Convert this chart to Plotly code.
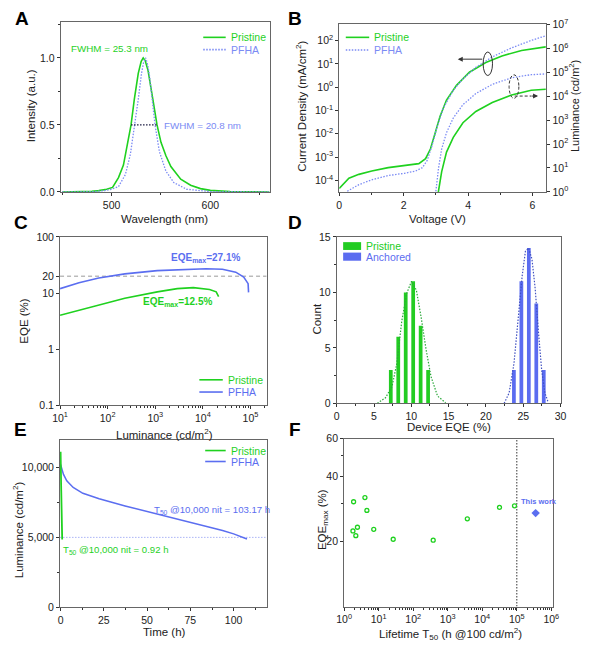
import plotly.graph_objects as go

W, H = 589, 649
def px(x): return x / W
def py(y): return 1 - y / H

GREEN = "#1fd11f"
BLUE = "#5b6ef0"
BLUE_LIGHT = "#7b8bf4"
FONT = "Arial, Liberation Sans, sans-serif"
DOT = "1.5px,1.5px"

# ---------------- data ----------------
# A: EL spectra
spec_wl_pristine = [450, 470, 480, 487, 495, 501, 507, 512, 515.5, 519.7, 523, 527, 530, 532, 534, 536.8,
                    541.8, 546, 550, 555, 560, 570, 580, 590, 600, 620, 660]
spec_int_pristine = [0, 0.002, 0.005, 0.01, 0.02, 0.034, 0.107, 0.20, 0.33, 0.5, 0.69, 0.885, 0.975, 1.0, 0.98,
                     0.91, 0.69, 0.5, 0.37, 0.27, 0.19, 0.095, 0.05, 0.025, 0.012, 0.003, 0]
spec_wl_pfha = [450, 480, 493, 500, 507, 514, 519, 523.7, 527, 530.3, 532.5, 534.5, 536.5, 538.5, 541.8, 544,
                548.4, 555, 563, 576, 600, 660]
spec_int_pfha = [0, 0.002, 0.01, 0.02, 0.04, 0.13, 0.28, 0.5, 0.69, 0.885, 0.97, 1.0, 0.95, 0.86, 0.65, 0.5,
                 0.30, 0.155, 0.07, 0.02, 0.003, 0]
fwhm_x = [519.7, 546]
fwhm_y = [0.5, 0.5]

# B: J-V-L
jv_v_pristine = [0, 0.3, 0.61, 1.01, 1.52, 2.02, 2.47, 2.68, 2.83, 2.98, 3.13, 3.33, 3.64, 4.04, 4.55, 5.05, 5.66, 6.41]
jv_j_pristine = [4.5e-5, 1.23e-4, 1.8e-4, 2.5e-4, 3.5e-4, 4.3e-4, 5.2e-4, 8.5e-4, 2.2e-3, 1.1e-2, 5.6e-2, 0.28,
                 1.2, 4.4, 11.5, 22, 38, 54]
jv_v_pfha = [0.25, 0.61, 1.01, 1.52, 2.02, 2.37, 2.58, 2.73, 2.88, 3.03, 3.23, 3.54, 3.84, 4.24, 4.75, 5.35, 5.96, 6.41]
jv_j_pfha = [3.4e-5, 6.5e-5, 1.05e-4, 1.6e-4, 2.0e-4, 2.5e-4, 3.5e-4, 7.2e-4, 3.1e-3, 1.8e-2, 0.126, 0.74,
             2.3, 7.1, 20, 49, 102, 162]
lv_v_pristine = [3.05, 3.08, 3.18, 3.33, 3.54, 3.84, 4.24, 4.75, 5.35, 5.96, 6.41]
lv_l_pristine = [0.8, 1.07, 7.1, 46, 190, 780, 2300, 5400, 11200, 17800, 19500]
lv_v_pfha = [2.97, 3.0, 3.08, 3.18, 3.33, 3.54, 3.84, 4.24, 4.75, 5.35, 5.96, 6.41]
lv_l_pfha = [0.8, 1.07, 9.5, 63, 300, 1230, 4400, 12900, 31000, 59000, 79000, 85000]

# C: EQE-L
eqe_lum_pristine = [10, 48, 229, 1100, 2900, 6300, 13800, 19000, 21400]
eqe_pristine = [4.03, 5.8, 8.1, 10.5, 12.0, 12.5, 11.6, 10.5, 8.6]
eqe_lum_pfha = [10, 25, 65, 229, 1100, 5400, 11700, 25700, 49000, 72000, 89000, 91000]
eqe_pfha = [12.0, 15.3, 18.5, 22.0, 25.1, 26.9, 27.1, 26.5, 23.6, 19.3, 14.7, 10.3]
ref_line_lum = [10, 218000]
ref_line_eqe = [20, 20]

# D: EQE histogram
hist_x_pristine = [7.25, 8.25, 9.25, 10.25, 11.25, 12.25]
hist_n_pristine = [3, 6, 10, 11, 7, 3]
hist_x_anchored = [23.75, 24.75, 25.75, 26.75, 27.75]
hist_n_anchored = [3, 11, 14, 9, 3]
fit_x_pristine = [5.45, 6.54, 7.41, 8.06, 8.72, 9.37, 10.03, 10.68, 11.33, 11.99, 12.64, 13.52, 14.6]
fit_y_pristine = [0, 0.5, 1.5, 3.6, 7.4, 9.9, 11.0, 10.2, 7.7, 4.8, 2.4, 0.65, 0.05]
fit_x_anchored = [22.45, 23.11, 23.76, 24.41, 24.86, 25.29, 25.72, 26.17, 26.6, 27.03, 27.47, 27.9, 28.34]
fit_y_anchored = [0, 0.94, 3.6, 8.0, 11.5, 13.7, 14.0, 13.0, 10.35, 6.5, 3.0, 0.94, 0.1]

# E: lifetime
decay_t_pristine = [0, 0.03, 0.06, 0.1, 0.15, 0.2, 0.3, 0.4, 0.5, 0.6, 0.7, 0.8, 0.92, 0.95]
decay_l_pristine = [10000, 11100, 9700, 10500, 9300, 9800, 8900, 8300, 7600, 6900, 6200, 5600, 5000, 4850]
decay_t_pfha = [0, 0.4, 1.0, 1.7, 3.6, 7.3, 12.9, 22.3, 37.3, 56.1, 74.8, 93.6, 100, 104, 107.7]
decay_l_pfha = [10200, 10000, 9750, 9490, 9030, 8560, 8140, 7750, 7240, 6660, 6120, 5490, 5250, 5050, 4880]
half_line_t = [-0.3, 119.5]
half_line_l = [5000, 5000]

# F: literature comparison
lit_t50 = [1.88, 1.8, 2.18, 2.43, 4.0, 4.56, 7.2, 26.4, 380, 3700, 31600, 86000]
lit_eqe = [30.6, 22.4, 21.3, 23.3, 32.0, 27.9, 22.8, 20.5, 20.3, 25.5, 28.8, 29.3]
this_t50 = [352000]
this_eqe = [27.1]
vline_t = [1e5, 1e5]
vline_eqe = [10, 60]

# ---------------- figure ----------------
fig = go.Figure()

def line(x, y, xa, ya, color, dash="solid", width=1.5):
    fig.add_trace(go.Scatter(x=x, y=y, mode="lines", xaxis=xa, yaxis=ya, showlegend=False,
                             line=dict(color=color, width=width, dash=dash), hoverinfo="skip"))

# A
line(spec_wl_pristine, spec_int_pristine, "x", "y", GREEN, width=1.6)
line(spec_wl_pfha, spec_int_pfha, "x", "y", BLUE_LIGHT, dash=DOT, width=1.3)
line(fwhm_x, fwhm_y, "x", "y", "#1a1a40", dash=DOT, width=1.3)

# B
line(jv_v_pristine, jv_j_pristine, "x2", "y2", GREEN, width=1.6)
line(jv_v_pfha, jv_j_pfha, "x2", "y2", BLUE_LIGHT, dash=DOT, width=1.3)
line(lv_v_pristine, lv_l_pristine, "x2", "y7", GREEN, width=1.6)
line(lv_v_pfha, lv_l_pfha, "x2", "y7", BLUE_LIGHT, dash=DOT, width=1.3)

# C
line(ref_line_lum, ref_line_eqe, "x3", "y3", "#999999", dash="4px,3px", width=1)
line(eqe_lum_pristine, eqe_pristine, "x3", "y3", GREEN, width=1.6)
line(eqe_lum_pfha, eqe_pfha, "x3", "y3", BLUE, width=1.6)

# D
fig.add_trace(go.Bar(x=hist_x_pristine, y=hist_n_pristine, width=0.5, xaxis="x4", yaxis="y4",
                     marker=dict(color="#22cc22", line=dict(width=0)), showlegend=False))
fig.add_trace(go.Bar(x=hist_x_anchored, y=hist_n_anchored, width=0.5, xaxis="x4", yaxis="y4",
                     marker=dict(color="#5b6cf0", line=dict(width=0)), showlegend=False))
line(fit_x_pristine, fit_y_pristine, "x4", "y4", "#2aa83a", dash=DOT, width=1.2)
line(fit_x_anchored, fit_y_anchored, "x4", "y4", "#4050c0", dash=DOT, width=1.2)

# E
line(half_line_t, half_line_l, "x5", "y5", "#a9b3f6", dash=DOT, width=1)
line(decay_t_pfha, decay_l_pfha, "x5", "y5", BLUE, width=1.5)
line(decay_t_pristine, decay_l_pristine, "x5", "y5", GREEN, width=1.8)

# F
line(vline_t, vline_eqe, "x6", "y6", "#555555", dash=DOT, width=1.2)
fig.add_trace(go.Scatter(x=lit_t50, y=lit_eqe, mode="markers", xaxis="x6", yaxis="y6", showlegend=False,
                         marker=dict(symbol="circle-open", size=4, color=GREEN, line=dict(width=1.3))))
fig.add_trace(go.Scatter(x=this_t50, y=this_eqe, mode="markers", xaxis="x6", yaxis="y6", showlegend=False,
                         marker=dict(symbol="diamond", size=6.5, color=BLUE)))

# ---------------- axes ----------------
def ax(domain, anchor, **kw):
    d = dict(domain=domain, anchor=anchor, showline=True, linecolor="#666666", linewidth=1, mirror=True,
             ticks="outside", ticklen=3, tickwidth=1, tickcolor="#333333", showgrid=False, zeroline=False,
             tickfont=dict(size=10.5, color="#222222", family=FONT))
    d.update(kw)
    return d

def pow_text(vals, exps):
    return dict(tickmode="array", tickvals=vals, ticktext=["10<sup>%d</sup>" % e for e in exps])

minor_lin = lambda dt: dict(ticks="outside", ticklen=2, dtick=dt, tickcolor="#333333")
minor_log = dict(ticks="outside", ticklen=2, dtick="D1", tickcolor="#333333")

layout_axes = dict(
    xaxis=ax([px(54), px(268)], "y", range=[448.5, 660], tickmode="array", tickvals=[500, 600],
             minor=minor_lin(50)),
    yaxis=ax([py(188), py(14)], "x", range=[0, 1.27], tickmode="array", tickvals=[0, 0.5, 1.0],
             ticktext=["0.0", "0.5", "1.0"], minor=minor_lin(0.25)),
    xaxis2=ax([px(339.3), px(551.5)], "y2", range=[0, 6.43], dtick=2, minor=minor_lin(1)),
    yaxis2=ax([py(188), py(16.7)], "x2", type="log", range=[-4.5, 2.7], mirror=False,
              **pow_text([1e-4, 1e-3, 1e-2, 1e-1, 1, 10, 100], [-4, -3, -2, -1, 0, 1, 2])),
    yaxis7=ax([py(188), py(16.7)], "x2", type="log", range=[-0.0005, 7.0005], overlaying="y2", side="right",
              mirror=False, **pow_text([1, 10, 100, 1e3, 1e4, 1e5, 1e6, 1e7], list(range(8)))),
    xaxis3=ax([px(53.3), px(265)], "y3", type="log", range=[0.9995, 5.34], minor=minor_log,
              **pow_text([10, 100, 1e3, 1e4, 1e5], [1, 2, 3, 4, 5])),
    yaxis3=ax([py(406), py(234)], "x3", type="log", range=[-1.0005, 2.0005], tickmode="array",
              tickvals=[0.1, 1, 10, 20, 100], ticktext=["0.1", "1", "10", "20", "100"]),
    xaxis4=ax([px(336.7), px(566)], "y4", range=[0, 30], dtick=5, minor=minor_lin(2.5)),
    yaxis4=ax([py(404), py(234)], "x4", range=[0, 15], dtick=5, minor=minor_lin(2.5)),
    xaxis5=ax([px(53.3), px(265.7)], "y5", range=[-0.3, 119.5], dtick=25, minor=minor_lin(12.5)),
    yaxis5=ax([py(612.7), py(441.7)], "x5", range=[0, 11930], tickmode="array", tickvals=[0, 5000, 10000],
              ticktext=["0", "5,000", "10,000"], minor=minor_lin(2500)),
    xaxis6=ax([px(344.3), px(558.3)], "y6", type="log", range=[-0.0005, 6.05], minor=minor_log,
              **pow_text([1, 10, 100, 1e3, 1e4, 1e5, 1e6], list(range(7)))),
    yaxis6=ax([py(611.7), py(440)], "x6", type="log", range=[1, 1.7788], tickmode="array",
              tickvals=[20, 40, 60], ticktext=["20", "40", "60"],
              minor=dict(ticks="outside", ticklen=2, tickmode="array", tickvals=[30, 50], tickcolor="#333333")),
)

# ---------------- annotations ----------------
ann = []
def text(x, y, s, size=10.5, color="#222222", anchor="center", angle=0, bold=False):
    if bold:
        s = "<b>" + s + "</b>"
    ann.append(dict(x=px(x), y=py(y), xref="paper", yref="paper", text=s, showarrow=False,
                    xanchor=anchor, yanchor="middle", textangle=angle,
                    font=dict(size=size, color=color, family=FONT)))

# panel letters
for L, (x, y) in zip("ABCDEF", [(14, 11), (294, 11), (13, 219), (294, 219), (13, 431), (294, 431)]):
    text(x, y, L, size=19, color="#000000", bold=True)

# axis titles
TS = 11.5
text(160, 216, "Wavelength (nm)", TS)
text(23, 100, "Intensity (a.u.)", TS, angle=-90)
text(440, 216, "Voltage (V)", TS)
text(300, 100, "Current Density (mA/cm<sup>2</sup>)", TS, angle=-90)
text(580, 100, "Luminance (cd/m<sup>2</sup>)", 11, angle=-90)
text(160, 435, "Luminance (cd/m<sup>2</sup>)", TS)
text(17, 320, "EQE (%)", TS, angle=-90)
text(452, 428, "Device EQE (%)", TS)
text(317, 318, "Count", TS, angle=-90)
text(160, 638, "Time (h)", TS)
text(10, 533, "Luminance (cd/m<sup>2</sup>)", TS, angle=-90)
text(453, 640, "Lifetime T<sub>50</sub> (h @100 cd/m<sup>2</sup>)", TS)
text(322, 523, "EQE<sub>max</sub> (%)", TS, angle=-90)

# in-plot labels
text(62, 41, "FWHM = 25.3 nm", 9.8, GREEN, anchor="left")
text(158, 120, "FWHM = 20.8 nm", 9.8, BLUE_LIGHT, anchor="left")
text(165, 256, "EQE<sub>max</sub>=27.1%", 10, BLUE, anchor="left", bold=True)
text(136, 300, "EQE<sub>max</sub>=12.5%", 10, GREEN, anchor="left", bold=True)
text(147, 513, "T<sub>50</sub> @10,000 nit = 103.17 h", 9.6, BLUE, anchor="left")
text(54, 554, "T<sub>50</sub> @10,000 nit = 0.92 h", 9.6, GREEN, anchor="left")
text(523, 504, "This work", 7.5, BLUE, anchor="left", bold=True)

# manual legends
shapes = []
def leg_line(x0, x1, y, color, dash, label):
    shapes.append(dict(type="line", xref="paper", yref="paper", x0=px(x0), x1=px(x1), y0=py(y), y1=py(y),
                       line=dict(color=color, width=1.6, dash=dash)))
    text(x1 + 3, y, label, 10.5, color, anchor="left")

def leg_box(x0, x1, y0, y1, color, label):
    shapes.append(dict(type="rect", xref="paper", yref="paper", x0=px(x0), x1=px(x1), y0=py(y1), y1=py(y0),
                       fillcolor=color, line=dict(width=0)))
    text(x1 + 2.5, (y0 + y1) / 2, label, 10.5, color, anchor="left")

leg_line(200, 223, 30, GREEN, "solid", "Pristine")
leg_line(200, 223, 42.5, BLUE_LIGHT, DOT, "PFHA")
leg_line(346, 370, 30, GREEN, "solid", "Pristine")
leg_line(346, 370, 43, BLUE_LIGHT, DOT, "PFHA")
leg_line(196, 220, 380, GREEN, "solid", "Pristine")
leg_line(196, 220, 392.5, BLUE, "solid", "PFHA")
leg_box(343.3, 361.7, 239.3, 247.3, "#22cc22", "Pristine")
leg_box(343.3, 361.7, 250, 258.3, "#5b6cf0", "Anchored")
leg_line(202, 223, 452.3, GREEN, "solid", "Pristine")
leg_line(202, 223, 463.5, BLUE, "solid", "PFHA")

# panel B markers: ellipses and arrows
shapes.append(dict(type="circle", xref="paper", yref="paper", x0=px(486.7), x1=px(496.3), y0=py(69), y1=py(45),
                   line=dict(color="#333333", width=1)))
shapes.append(dict(type="circle", xref="paper", yref="paper", x0=px(513.3), x1=px(523.3), y0=py(92.3), y1=py(68.3),
                   line=dict(color="#333333", width=1, dash="3px,2px")))
shapes.append(dict(type="line", xref="paper", yref="paper", x0=px(519), x1=px(536), y0=py(90), y1=py(90),
                   line=dict(color="#333333", width=1, dash="3px,2px")))
ann.append(dict(x=px(460.7), y=py(52.3), xref="paper", yref="paper", ax=26, ay=0, showarrow=True,
                arrowhead=2, arrowsize=1, arrowwidth=1, arrowcolor="#333333", text=""))
ann.append(dict(x=px(543), y=py(90), xref="paper", yref="paper", ax=-8, ay=0, showarrow=True,
                arrowhead=2, arrowsize=1, arrowwidth=1, arrowcolor="#333333", text=""))

fig.update_layout(
    width=W, height=H, margin=dict(l=0, r=0, t=0, b=0),
    paper_bgcolor="white", plot_bgcolor="white",
    font=dict(family=FONT, size=10.5, color="#222222"),
    barmode="overlay", showlegend=False, hovermode=False,
    annotations=ann, shapes=shapes,
    **layout_axes,
)

fig.write_html("out.html", config={"displayModeBar": False},
               post_script="document.body.style.margin='0';document.body.style.overflow='hidden';")
